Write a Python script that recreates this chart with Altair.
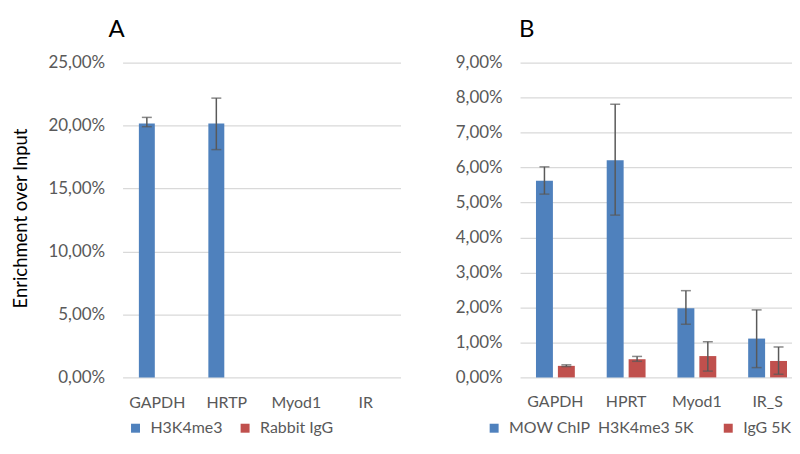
import altair as alt
import pandas as pd

# ---------------- data ----------------
cats_a = ["GAPDH", "HRTP", "Myod1", "IR"]
series_a = ["H3K4me3", "Rabbit IgG"]
h3_a = [0.2017, 0.2017, 0.0, 0.0]
h3_a_lo = [0.1991, 0.1809, None, None]
h3_a_hi = [0.2065, 0.2218, None, None]
igg_a = [0.0, 0.0, 0.0, 0.0]
igg_a_lo = [None, None, None, None]
igg_a_hi = [None, None, None, None]

cats_b = ["GAPDH", "HPRT", "Myod1", "IR_S"]
series_b = ["MOW ChIP\u00a0 H3K4me3 5K", "IgG 5K"]
h3_b = [0.0562, 0.0621, 0.0198, 0.0111]
h3_b_lo = [0.0524, 0.0464, 0.0152, 0.0028]
h3_b_hi = [0.0602, 0.0781, 0.0248, 0.0193]
igg_b = [0.0033, 0.0052, 0.0061, 0.0047]
igg_b_lo = [0.0031, 0.0046, 0.0018, 0.0009]
igg_b_hi = [0.0036, 0.0060, 0.0102, 0.0087]

yticks_a = [0, 0.05, 0.10, 0.15, 0.20, 0.25]
yticks_b = [0, 0.01, 0.02, 0.03, 0.04, 0.05, 0.06, 0.07, 0.08, 0.09]

BLUE = "#4F81BD"
RED = "#C0504D"
GREY = "#595959"
FONT = "Lato"
H = 316


def series_frames(cats, name, vals, lo, hi):
    bars = pd.DataFrame({"cat": cats, "series": name, "val": vals})
    errs = pd.DataFrame([{"cat": c, "series": name, "lo": lo[i], "hi": hi[i]}
                         for i, c in enumerate(cats) if lo[i] is not None])
    return bars, errs


def panel(cats, series, vals, los, his, yticks, ymax, width, xrange, bar_w, off,
          title, title_dx, ytitle, legend_x, legend_y, col_pad, text_labels):
    x_scale = alt.Scale(range=[0, xrange], paddingInner=0, paddingOuter=0)
    if text_labels:
        x_axis = None
    else:
        x_axis = alt.Axis(domain=False, ticks=False, labelAngle=0, labelPadding=17,
                          labelFontSize=16, labelColor=GREY, labelFont=FONT, grid=False)
    y_axis_kw = dict(values=yticks, domain=False, ticks=False, labelPadding=18,
                     labelFontSize=17, labelColor=GREY, labelFont=FONT, labelOverlap=False,
                     gridColor="#D9D9D9", gridWidth=1.3, tickCount=len(yticks),
                     labelExpr="replace(format(datum.value, '.2%'), '.', ',')")
    if ytitle:
        y_axis_kw.update(titleFontSize=18.5, titleFont=FONT, titleColor="#000000",
                         titleFontWeight="normal", titlePadding=18, titleY=156)
    y_axis = alt.Axis(**y_axis_kw)
    y_scale = alt.Scale(domain=[0, ymax], nice=False)
    ytitle_v = ytitle if ytitle else None

    legend = alt.Legend(orient="none", legendX=legend_x, legendY=legend_y,
                        direction="horizontal", title=None,
                        symbolType="square", symbolSize=81, labelLimit=0,
                        symbolStrokeWidth=0, labelFontSize=16,
                        labelColor=GREY, labelFont=FONT,
                        columnPadding=col_pad, labelOffset=7)
    color_scale = alt.Scale(domain=series, range=[BLUE, RED])

    ex = alt.X("cat:N", sort=cats, title=None, scale=x_scale, axis=x_axis)
    layers = []
    for k in range(2):
        bars, errs = series_frames(cats, series[k], vals[k], los[k], his[k])
        dx = -off if k == 0 else off
        layers.append(alt.Chart(bars).mark_bar(width=bar_w, xOffset=dx).encode(
            x=ex,
            y=alt.Y("val:Q", title=ytitle_v, scale=y_scale, axis=y_axis),
            color=alt.Color("series:N", scale=color_scale, legend=legend)))
        if len(errs):
            layers.append(alt.Chart(errs).mark_rule(color=GREY, strokeWidth=1.5, xOffset=dx).encode(
                x=ex,
                y=alt.Y("lo:Q", title=ytitle_v, scale=y_scale, axis=y_axis), y2="hi:Q"))
            for f in ["lo", "hi"]:
                layers.append(alt.Chart(errs).mark_tick(color=GREY, thickness=1.5, size=10,
                                                        xOffset=dx).encode(
                    x=ex,
                    y=alt.Y(f + ":Q", title=ytitle_v, scale=y_scale, axis=y_axis)))
    if text_labels:
        layers.append(alt.Chart(pd.DataFrame({"cat": cats})).mark_text(
            fontSize=16, color=GREY, font=FONT, baseline="middle", align="center").encode(
            x=ex, y=alt.value(H + 25), text="cat:N"))

    return alt.layer(*layers).properties(
        width=width, height=H,
        title=alt.TitleParams(title, anchor="start", frame="group", dx=title_dx,
                              fontSize=24, font=FONT, fontWeight="normal",
                              color="#000000", baseline="alphabetic", offset=-7))


chart_a = panel(cats_a, series_a, [h3_a, igg_a], [h3_a_lo, igg_a_lo], [h3_a_hi, igg_a_hi],
                yticks_a, 0.25, 279, 279, 16, 10.5,
                "A", -14, "Enrichment over Input", 5, 359, 14, False)
chart_b = panel(cats_b, series_b, [h3_b, igg_b], [h3_b_lo, igg_b_lo], [h3_b_hi, igg_b_hi],
                yticks_b, 0.09, 268, 284, 17, 11,
                "B", -1, None, -34, 359, 26, True)

chart = alt.hconcat(chart_a, chart_b, spacing=54).resolve_scale(
    color="independent", x="independent", y="independent"
).resolve_legend(color="independent").properties(
    padding={"left": 3, "top": 9, "right": 0, "bottom": 0}
).configure(font=FONT).configure_view(stroke=None)

chart.save("out.html", embed_options={"renderer": "svg", "actions": False})
